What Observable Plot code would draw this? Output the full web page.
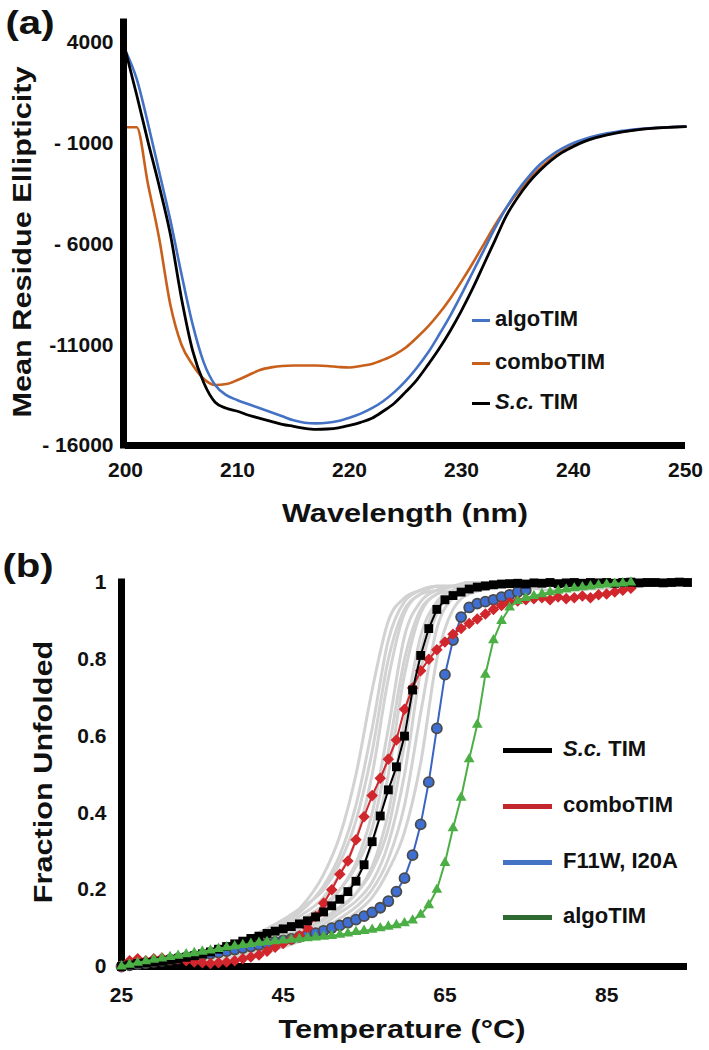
<!DOCTYPE html>
<html><head><meta charset="utf-8">
<script src="https://cdn.jsdelivr.net/npm/d3@7"></script>
<script src="https://cdn.jsdelivr.net/npm/@observablehq/plot@0.6"></script>
<style>
body{margin:0;background:#fff;}
#wrap{position:relative;width:709px;height:1050px;overflow:hidden;font-family:"Liberation Sans",Arial,sans-serif;font-weight:bold;color:#111;}
.abs{position:absolute;white-space:nowrap;line-height:1;}
.c{transform:translate(-50%,-50%) scaleX(1.18);}
.r{transform:translate(-50%,-50%) rotate(-90deg) scaleX(1.18);}
.lg{position:absolute;white-space:nowrap;line-height:1;transform:translateY(-50%);font-size:22px;}
.sw{position:absolute;}
.chart{position:absolute;left:0;}
</style></head>
<body><div id="wrap"></div>
<script>
// ---------- Panel (a): CD spectra ----------
const wavelength = d3.range(200, 251);
const scTIM_cd = [3600,1400,-900,-3100,-5500,-8700,-11300,-12900,-13850,-14150,-14300,-14500,-14650,-14800,-14950,-15050,-15150,-15200,-15180,-15120,-15000,-14850,-14650,-14300,-13900,-13350,-12750,-12000,-11200,-10300,-9300,-8200,-7000,-5800,-4600,-3700,-2950,-2350,-1850,-1450,-1150,-900,-720,-580,-470,-380,-310,-260,-220,-190,-170];
const algoTIM_cd = [3600,2200,0,-2400,-4800,-7500,-10000,-11900,-13000,-13500,-13750,-13950,-14150,-14350,-14550,-14750,-14870,-14900,-14870,-14780,-14620,-14420,-14150,-13800,-13350,-12800,-12150,-11400,-10500,-9550,-8500,-7400,-6300,-5200,-4200,-3350,-2650,-2050,-1600,-1250,-980,-780,-620,-500,-410,-340,-280,-240,-210,-180,-160];
const comboTIM_cd = [-200,-200,-3000,-5700,-9000,-11000,-12000,-12700,-13000,-12950,-12750,-12500,-12250,-12120,-12050,-12030,-12030,-12030,-12050,-12100,-12130,-12050,-11950,-11750,-11500,-11150,-10650,-10100,-9450,-8700,-7850,-6950,-6000,-5050,-4200,-3450,-2800,-2250,-1750,-1380,-1080,-850,-680,-550,-450,-370,-300,-250,-215,-190,-170];
const cdTicksX = [200,210,220,230,240,250];
const cdTicksY = [-16000,-11000,-6000,-1000,4000];
const cdTickLabelsY = ["- 16000","-11000","- 6000","- 1000","4000"];
const cdLegendNames = ["algoTIM","comboTIM","S.c. TIM"];
const cdColors = ["#4472C4","#C8601C","#000000"];

// ---------- Panel (b): thermal melts ----------
const meltTicksX = [25,45,65,85];
const meltTicksY = [0,0.2,0.4,0.6,0.8,1];
const scTIM_melt = [0,0.004,0.008,0.01,0.012,0.014,0.017,0.02,0.024,0.028,0.033,0.038,0.045,0.052,0.059,0.066,0.073,0.079,0.086,0.092,0.098,0.104,0.111,0.119,0.129,0.142,0.158,0.175,0.195,0.222,0.265,0.325,0.392,0.46,0.52,0.6,0.72,0.81,0.88,0.93,0.955,0.966,0.975,0.983,0.988,0.991,0.994,0.996,0.997,0.998,0.996,0.999,0.998,1,0.997,0.999,1,0.998,1,0.999,1,0.998,1,1.001,0.999,1,1,0.999,1,1.001,1];
const comboTIM_melt = [0,0.015,0.02,0.015,0.02,0.022,0.018,0.02,0.015,0.012,0.01,0.008,0.01,0.012,0.015,0.02,0.025,0.03,0.04,0.05,0.06,0.07,0.08,0.1,0.13,0.165,0.2,0.24,0.275,0.33,0.39,0.445,0.49,0.54,0.59,0.67,0.725,0.77,0.8,0.825,0.845,0.865,0.88,0.893,0.905,0.918,0.93,0.94,0.948,0.952,0.955,0.958,0.96,0.955,0.962,0.958,0.96,0.965,0.96,0.968,0.97,0.975,0.98,0.985];
const f11w_melt = [0,0.003,0.006,0.009,0.012,0.015,0.018,0.021,0.024,0.027,0.03,0.033,0.036,0.04,0.044,0.048,0.052,0.056,0.06,0.064,0.068,0.072,0.077,0.082,0.087,0.093,0.1,0.107,0.114,0.122,0.131,0.141,0.153,0.17,0.195,0.23,0.29,0.37,0.48,0.62,0.76,0.85,0.91,0.935,0.945,0.95,0.955,0.962,0.968,0.975,0.98];
const algoTIM_melt = [0,0.005,0.01,0.014,0.018,0.021,0.025,0.028,0.032,0.035,0.039,0.042,0.046,0.05,0.053,0.056,0.059,0.062,0.064,0.066,0.068,0.07,0.072,0.074,0.076,0.078,0.08,0.083,0.086,0.09,0.093,0.096,0.1,0.104,0.108,0.113,0.12,0.135,0.16,0.2,0.27,0.36,0.44,0.54,0.63,0.76,0.85,0.9,0.935,0.952,0.96,0.965,0.97,0.975,0.979,0.982,0.985,0.988,0.99,0.993,0.995,0.997,0.998,1];
const meltStartT = 25;
const greyT = [25,30,35,40,44,47,50,52,54,56,58,60,62,64,66,68,72,78,95];
const greyCurves = [
  [0,0.01,0.03,0.06,0.1,0.15,0.24,0.34,0.5,0.72,0.9,0.96,0.98,0.99,0.99,1,1,1,1],
  [0,0.01,0.03,0.06,0.1,0.14,0.21,0.29,0.42,0.62,0.85,0.95,0.98,0.99,0.99,1,1,1,1],
  [0,0.015,0.035,0.07,0.11,0.15,0.2,0.27,0.38,0.56,0.8,0.93,0.97,0.99,0.99,1,1,1,1],
  [0,0.01,0.03,0.06,0.09,0.13,0.18,0.24,0.33,0.5,0.75,0.92,0.97,0.98,0.99,1,1,1,1],
  [0,0.01,0.025,0.05,0.08,0.11,0.15,0.2,0.27,0.4,0.62,0.86,0.95,0.98,0.99,0.99,1,1,1],
  [0,0.012,0.03,0.055,0.085,0.12,0.16,0.2,0.26,0.36,0.56,0.8,0.93,0.97,0.99,0.99,1,0.98,1],
  [0,0.01,0.02,0.04,0.07,0.1,0.14,0.18,0.23,0.32,0.5,0.76,0.92,0.97,0.98,0.99,1,1,1],
  [0,0.008,0.02,0.04,0.065,0.09,0.12,0.15,0.19,0.26,0.4,0.64,0.86,0.95,0.98,0.99,1,1,1],
  [0,0.01,0.025,0.045,0.07,0.095,0.125,0.155,0.19,0.25,0.36,0.58,0.82,0.94,0.97,0.99,1,1,1],
  [0,0.008,0.02,0.035,0.055,0.08,0.11,0.14,0.17,0.22,0.32,0.5,0.77,0.92,0.97,0.99,0.995,1,1],
  [0,0.008,0.018,0.032,0.05,0.07,0.1,0.125,0.155,0.2,0.28,0.42,0.66,0.88,0.96,0.98,0.99,1,1],
  [0,0.006,0.015,0.03,0.045,0.065,0.09,0.11,0.14,0.18,0.25,0.35,0.53,0.8,0.93,0.97,0.99,1,1]
];
const meltLegendNames = ["S.c. TIM","comboTIM","F11W, I20A","algoTIM"];
const meltLegendColors = ["#000000","#C4262E","#4472C4","#2F6A32"];

// ---------- build ----------
const wrap = document.getElementById("wrap");
const font = '"Liberation Sans", Arial, sans-serif';
const yLabelMap = new Map(cdTicksY.map((d,i)=>[d, cdTickLabelsY[i]]));
const cdRows = vals => vals.map((v,i)=>({w: wavelength[i], v}));

const chartA = Plot.plot({
  width:709, height:540, marginTop:22, marginRight:24, marginBottom:95, marginLeft:125,
  style:{fontFamily:font, fontSize:"21px", fontWeight:"bold", color:"#111", background:"transparent", overflow:"visible"},
  x:{domain:[200,250], ticks:cdTicksX, tickSize:0, tickPadding:17, tickFormat:d=>String(d), label:null},
  y:{domain:[-16000,5000], ticks:cdTicksY, tickSize:0, tickPadding:12, tickFormat:d=>yLabelMap.get(d), label:null},
  marks:[
    Plot.line(cdRows(comboTIM_cd), {x:"w", y:"v", stroke:cdColors[1], strokeWidth:2.6, curve:"monotone-x"}),
    Plot.line(cdRows(algoTIM_cd), {x:"w", y:"v", stroke:cdColors[0], strokeWidth:2.6, curve:"monotone-x"}),
    Plot.line(cdRows(scTIM_cd), {x:"w", y:"v", stroke:cdColors[2], strokeWidth:2.8, curve:"monotone-x"}),
    Plot.ruleX([cdTicksX[0]], {stroke:"#000", strokeWidth:7, dx:-2, strokeLinecap:"square"}),
    Plot.ruleY([cdTicksY[0]], {stroke:"#000", strokeWidth:7})
  ]
});
chartA.classList.add("chart"); chartA.style.top = "0px";
wrap.appendChild(chartA);

const meltRows = vals => vals.map((f,i)=>({t: meltStartT + i, f}));
const greyRows = greyCurves.flatMap((c,k)=>c.map((f,i)=>({t: greyT[i], f, id:k})));

const chartB = Plot.plot({
  width:709, height:510, marginTop:42, marginRight:22, marginBottom:84, marginLeft:121,
  style:{fontFamily:font, fontSize:"21px", fontWeight:"bold", color:"#111", background:"transparent", overflow:"visible"},
  x:{domain:[25,95], ticks:meltTicksX, tickSize:0, tickPadding:21, tickFormat:d=>String(d), label:null},
  y:{domain:[0,1], ticks:meltTicksY, tickSize:0, tickPadding:15, tickFormat:d=>String(+d.toFixed(1)), label:null},
  marks:[
    Plot.line(greyRows, {x:"t", y:"f", z:"id", stroke:"#d2d2d2", strokeWidth:3, curve:"monotone-x"}),
    Plot.ruleX([meltTicksX[0]], {stroke:"#000", strokeWidth:7, strokeLinecap:"square"}),
    Plot.ruleY([meltTicksY[0]], {stroke:"#000", strokeWidth:7}),
    Plot.line(meltRows(f11w_melt), {x:"t", y:"f", stroke:"#3A63C4", strokeWidth:2}),
    Plot.dot(meltRows(f11w_melt), {x:"t", y:"f", r:5, fill:"#3F6FD2", stroke:"#4a4a4a", strokeWidth:1.8}),
    Plot.line(meltRows(comboTIM_melt), {x:"t", y:"f", stroke:"#D0262C", strokeWidth:2}),
    Plot.dot(meltRows(comboTIM_melt), {x:"t", y:"f", symbol:"square", rotate:45, r:4.6, fill:"#D0262C", stroke:"none"}),
    Plot.line(meltRows(scTIM_melt), {x:"t", y:"f", stroke:"#000", strokeWidth:2}),
    Plot.dot(meltRows(scTIM_melt), {x:"t", y:"f", symbol:"square", r:5, fill:"#000", stroke:"none"}),
    Plot.line(meltRows(algoTIM_melt), {x:"t", y:"f", stroke:"#4CAF45", strokeWidth:2}),
    Plot.dot(meltRows(algoTIM_melt), {x:"t", y:"f", symbol:"triangle", r:4, fill:"#4CAF45", stroke:"none"})
  ]
});
chartB.classList.add("chart"); chartB.style.top = "540px";
wrap.appendChild(chartB);

// ---------- text overlays ----------
function addText(txt, x, y, size, cls, html){
  const d = document.createElement("div");
  d.className = "abs " + cls;
  d.style.left = x + "px"; d.style.top = y + "px"; d.style.fontSize = size + "px";
  if (html) d.innerHTML = txt; else d.textContent = txt;
  wrap.appendChild(d);
}
addText("(a)", 30, 22, 34, "c");
addText("(b)", 28, 565, 34, "c");
addText("Mean Residue Ellipticity", 22, 242, 26, "r");
addText("Wavelength (nm)", 405, 513, 26, "c");
addText("Fraction Unfolded", 43, 772, 26, "r");
addText("Temperature (°C)", 402, 1029, 26, "c");

function legendItem(label, color, x1, x2, tx, y, thick){
  const s = document.createElement("div");
  s.className = "sw";
  s.style.left = x1 + "px"; s.style.width = (x2 - x1) + "px";
  s.style.top = (y - thick/2) + "px"; s.style.height = thick + "px";
  s.style.background = color;
  wrap.appendChild(s);
  const t = document.createElement("div");
  t.className = "lg";
  t.style.left = tx + "px"; t.style.top = (y - 1) + "px";
  if (label.startsWith("S.c.")) t.innerHTML = "<i>S.c.</i>" + label.slice(4);
  else t.textContent = label;
  wrap.appendChild(t);
}
const cdLegendY = [320, 363, 403];
cdLegendNames.forEach((n,i)=>legendItem(n, cdColors[i], 472, 490, 495, cdLegendY[i], 3));
const meltLegendY = [750, 806, 862, 917];
meltLegendNames.forEach((n,i)=>legendItem(n, meltLegendColors[i], 503, 552, 563, meltLegendY[i], 5));
</script>
</body></html>
